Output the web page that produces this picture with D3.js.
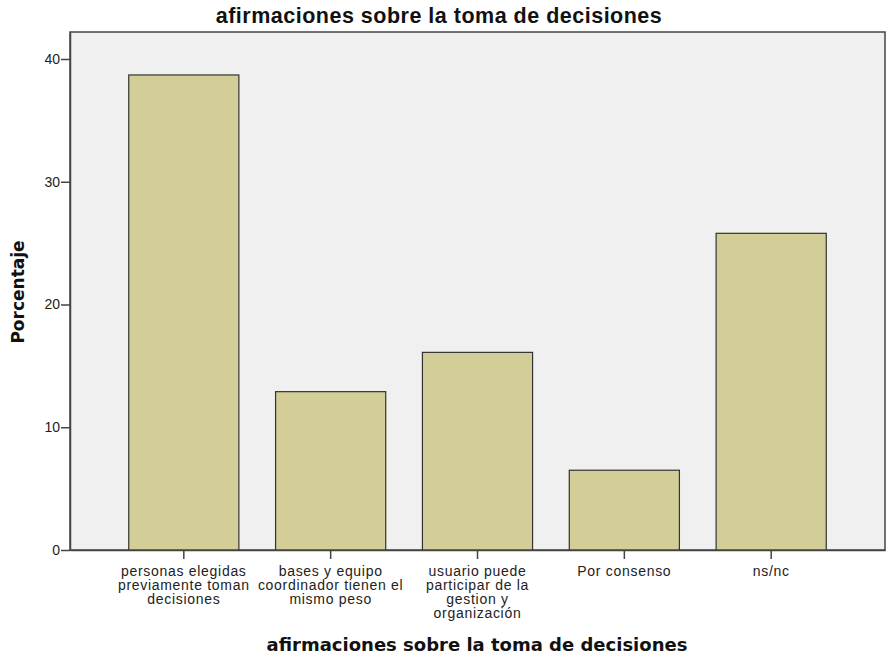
<!DOCTYPE html>
<html>
<head>
<meta charset="utf-8">
<script src="https://cdn.jsdelivr.net/npm/d3@7"></script>
<style>
  body { margin: 0; background: #fff; }
  text { font-family: "Liberation Sans", Arial, sans-serif; }
</style>
</head>
<body>
<svg id="chart"></svg>
<script>
// categories (wrapped label lines) and percentages
const categories = [
    ["personas elegidas", "previamente toman", "decisiones"],
    ["bases y equipo", "coordinador tienen el", "mismo peso"],
    ["usuario puede", "participar de la", "gestion y", "organización"],
    ["Por consenso"],
    ["ns/nc"]
];
const percents = [38.7, 12.9, 16.1, 6.5, 25.8];
const yTicks = [0, 10, 20, 30, 40];

const width = 889, height = 657;
const margin = {left: 70, right: 4, top: 32, bottom: 107};

const svg = d3.select("#chart")
    .attr("width", width)
    .attr("height", height);

const x = d3.scaleBand()
    .domain(d3.range(categories.length))
    .range([margin.left, width - margin.right])
    .paddingInner(0.25)
    .paddingOuter(0.4);

const y = d3.scaleLinear()
    .domain([0, 42.2])
    .range([height - margin.bottom, margin.top]);

// plot background
svg.append("rect")
    .attr("x", margin.left)
    .attr("y", margin.top)
    .attr("width", width - margin.left - margin.right)
    .attr("height", height - margin.top - margin.bottom)
    .attr("fill", "#f0f0f0")
    .attr("stroke", "#444")
    .attr("stroke-width", 1.5);

// bars
svg.selectAll(".bar")
    .data(percents)
    .enter()
    .append("rect")
    .attr("class", "bar")
    .attr("x", (d, i) => x(i))
    .attr("y", d => y(d))
    .attr("width", x.bandwidth())
    .attr("height", d => y(0) - y(d))
    .attr("fill", "#d3ce97")
    .attr("stroke", "#333")
    .attr("stroke-width", 1.2);

// y axis
const yAxis = svg.append("g")
    .attr("transform", `translate(${margin.left},0)`)
    .call(d3.axisLeft(y).tickValues(yTicks).tickSize(9).tickSizeOuter(0).tickPadding(1));
yAxis.select(".domain").attr("stroke", "#444").attr("stroke-width", 1.5);
yAxis.selectAll(".tick line").attr("stroke", "#444").attr("stroke-width", 1.5);
yAxis.selectAll(".tick text")
    .attr("font-family", "Liberation Sans, Arial, sans-serif")
    .attr("font-size", "14px")
    .attr("fill", "#222");

// x axis
const xAxis = svg.append("g")
    .attr("transform", `translate(0,${height - margin.bottom})`)
    .call(d3.axisBottom(x).tickSize(9).tickSizeOuter(0).tickFormat(""));
xAxis.select(".domain").attr("stroke", "#444").attr("stroke-width", 1.5);
xAxis.selectAll(".tick line").attr("stroke", "#444").attr("stroke-width", 1.5);

// category labels
categories.forEach((lines, i) => {
    const t = svg.append("text")
        .attr("x", x(i) + x.bandwidth() / 2)
        .attr("y", height - margin.bottom + 26)
        .attr("text-anchor", "middle")
        .attr("font-size", "14px")
        .attr("letter-spacing", "0.7px")
        .attr("fill", "#222");
    lines.forEach((line, j) => {
        t.append("tspan")
            .attr("x", x(i) + x.bandwidth() / 2)
            .attr("dy", j === 0 ? 0 : 14)
            .text(line);
    });
});

// title
svg.append("text")
    .attr("x", 439)
    .attr("y", 23)
    .attr("text-anchor", "middle")
    .attr("font-size", "21.5px")
    .attr("letter-spacing", "0.5px")
    .attr("font-weight", "bold")
    .attr("fill", "#111")
    .text("afirmaciones sobre la toma de decisiones");

// x title
svg.append("text")
    .attr("x", 477)
    .attr("y", 651)
    .attr("text-anchor", "middle")
    .style("font-family", "DejaVu Sans, sans-serif")
    .attr("font-size", "18px")
    .attr("font-weight", "bold")
    .attr("fill", "#111")
    .text("afirmaciones sobre la toma de decisiones");

// y title
svg.append("text")
    .attr("transform", `translate(24,292) rotate(-90)`)
    .attr("text-anchor", "middle")
    .style("font-family", "DejaVu Sans, sans-serif")
    .attr("font-size", "17px")
    .attr("font-weight", "bold")
    .attr("fill", "#111")
    .text("Porcentaje");
</script>
</body>
</html>
